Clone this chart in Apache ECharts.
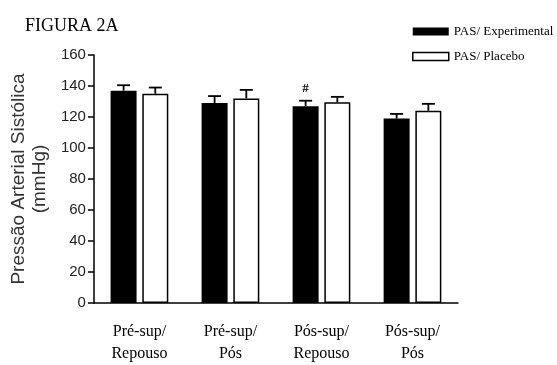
<!DOCTYPE html>
<html>
<head>
<meta charset="utf-8">
<script src="https://cdn.jsdelivr.net/npm/echarts@6/dist/echarts.min.js"></script>
<style>html,body{margin:0;padding:0;background:#fff;}#c{width:557px;height:365px;}</style>
</head>
<body>
<div id="c"></div>
<script>
const categories = ['Pré-sup/\nRepouso', 'Pré-sup/\nPós', 'Pós-sup/\nRepouso', 'Pós-sup/\nPós'];
const seriesNames = ['PAS/ Experimental', 'PAS/ Placebo'];
const expMean = [137, 129, 127, 119];
const expErr = [3.5, 4.5, 3.5, 3];
const plaMean = [135, 132, 129.5, 124];
const plaErr = [4, 5.5, 3.5, 4.5];
const expMarks = ['', '', '#', ''];
const yTicks = [0, 20, 40, 60, 80, 100, 120, 140, 160];

const BAR_W = 26;
const GAP_PCT = 22;
const HALF_SEP = (BAR_W + BAR_W * GAP_PCT / 100) / 2;
const CAP = 13;

const errData = [];
expMean.forEach((m, i) => errData.push([i, m, expErr[i], -1]));
plaMean.forEach((m, i) => errData.push([i, m, plaErr[i], 1]));

const chart = echarts.init(document.getElementById('c'), null, {renderer: 'canvas'});
chart.setOption({
  animation: false,
  backgroundColor: '#fff',
  title: {
    text: 'FIGURA 2A', left: 20, top: 12,
    textStyle: {fontFamily: 'Liberation Serif', fontSize: 18, fontWeight: 'normal', color: '#000'}
  },
  legend: {
    orient: 'vertical', left: 407, top: 20,
    itemWidth: 36, itemHeight: 8, itemGap: 12,
    selectedMode: false,
    textStyle: {fontFamily: 'Liberation Serif', fontSize: 13, color: '#000'},
    data: [
      {name: seriesNames[0], icon: 'rect', itemStyle: {color: '#000'}},
      {name: seriesNames[1], icon: 'rect', itemStyle: {color: '#fff', borderColor: '#000', borderWidth: 1.5}}
    ]
  },
  grid: {left: 80, right: 99, top: 55, bottom: 56, containLabel: false},
  xAxis: {
    type: 'category', data: categories,
    axisLine: {show: true, lineStyle: {color: '#000', width: 1.5}},
    axisTick: {show: false},
    axisLabel: {fontFamily: 'Liberation Serif', fontSize: 16, lineHeight: 22, margin: 18, color: '#000'},
    splitLine: {show: false}
  },
  yAxis: {
    type: 'value', min: yTicks[0], max: yTicks[yTicks.length - 1], interval: yTicks[1] - yTicks[0],
    name: 'Pressão Arterial Sistólica\n(mmHg)',
    nameLocation: 'middle', nameGap: 31, nameRotate: 90,
    nameTextStyle: {fontFamily: 'Liberation Sans', fontSize: 19, lineHeight: 21, color: '#333'},
    axisLine: {show: true, lineStyle: {color: '#000', width: 1.5}},
    axisTick: {show: true, length: 6, lineStyle: {color: '#000', width: 1.5}},
    axisLabel: {fontFamily: 'Liberation Sans', fontSize: 15, color: '#222', margin: 8},
    splitLine: {show: false}
  },
  series: [
    {
      name: seriesNames[0], type: 'bar', barWidth: BAR_W, barGap: GAP_PCT + '%',
      itemStyle: {color: '#000'},
      data: expMean.map((v, i) => ({
        value: v,
        label: {
          show: !!expMarks[i], position: 'top', distance: 11,
          formatter: () => expMarks[i],
          fontFamily: 'Liberation Serif', fontSize: 13, fontWeight: 'bold', color: '#000'
        }
      })),
      z: 2
    },
    {
      name: seriesNames[1], type: 'bar', barWidth: BAR_W,
      itemStyle: {color: '#fff', borderColor: '#000', borderWidth: 1.5},
      data: plaMean,
      z: 2
    },
    {
      type: 'custom', name: 'err', z: 5, silent: true,
      encode: {x: 0, y: [1, 2]},
      data: errData,
      renderItem: function (params, api) {
        const i = api.value(0), m = api.value(1), e = api.value(2), side = api.value(3);
        const base = api.coord([i, m]);
        const top = api.coord([i, m + e]);
        const x = base[0] + side * HALF_SEP;
        const style = {stroke: '#000', lineWidth: 1.8, fill: null};
        return {
          type: 'group',
          children: [
            {type: 'line', shape: {x1: x, y1: base[1], x2: x, y2: top[1]}, style: style},
            {type: 'line', shape: {x1: x - CAP / 2, y1: top[1], x2: x + CAP / 2, y2: top[1]}, style: style}
          ]
        };
      }
    }
  ]
});
</script>
</body>
</html>
